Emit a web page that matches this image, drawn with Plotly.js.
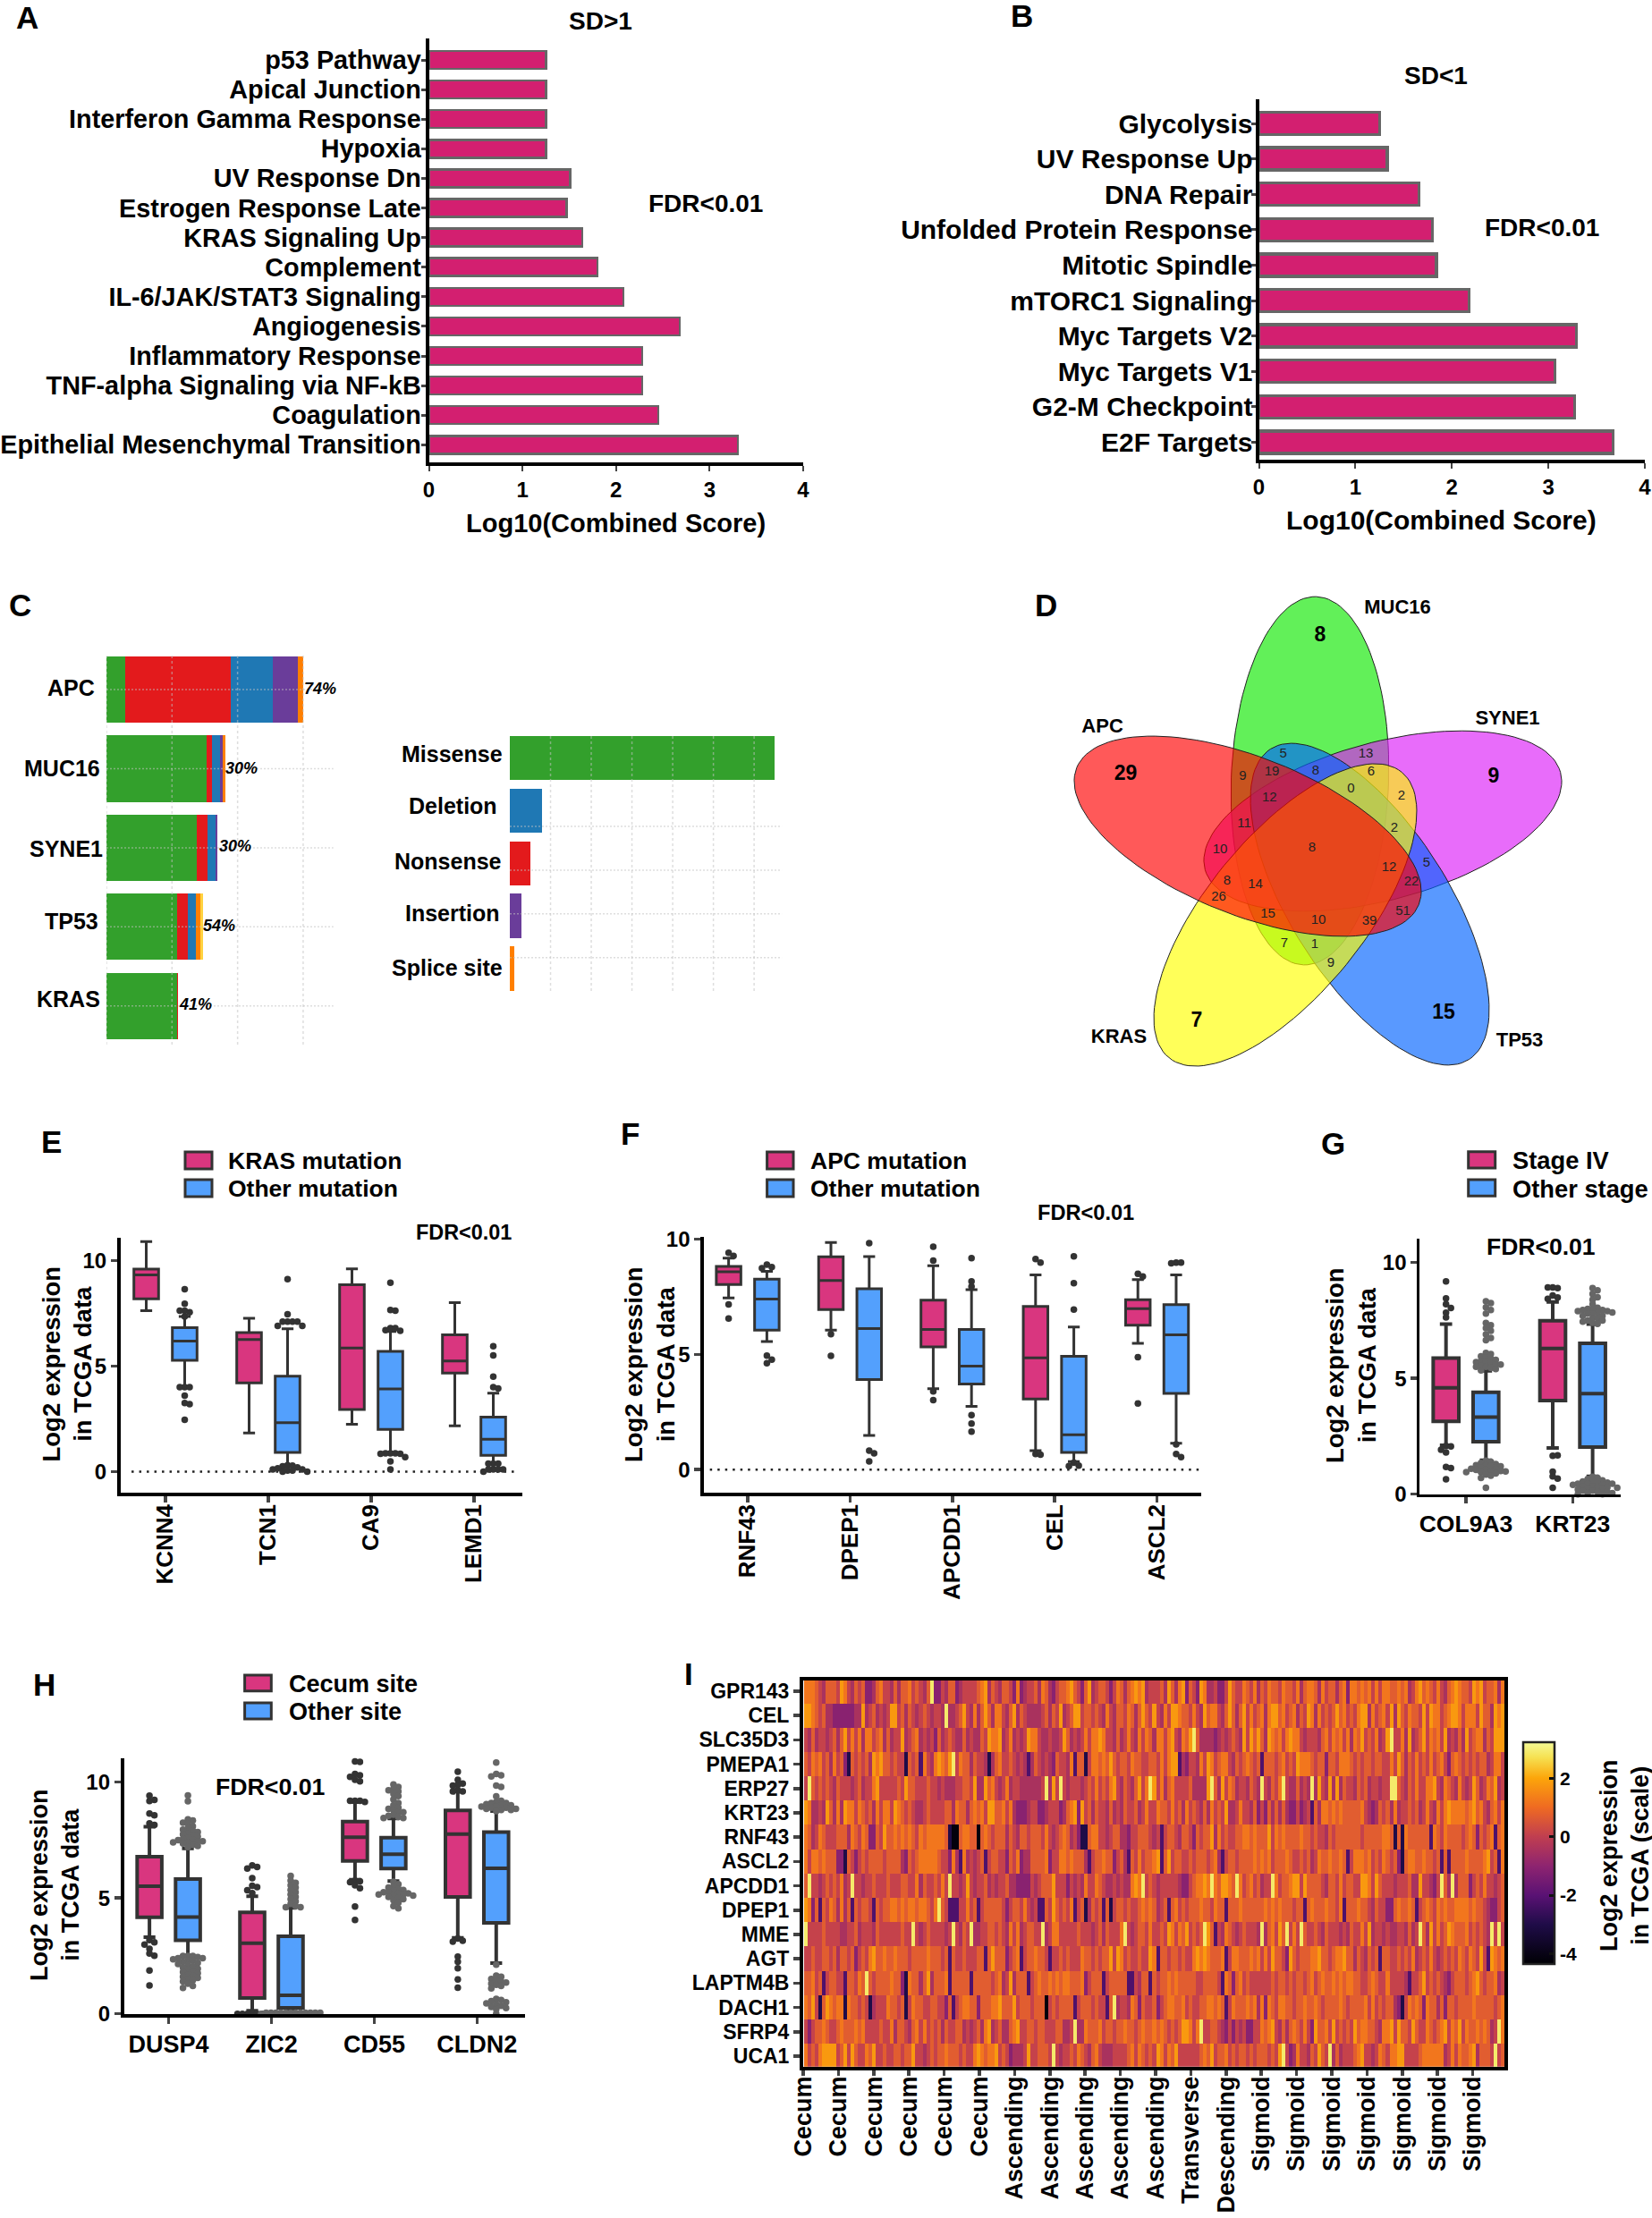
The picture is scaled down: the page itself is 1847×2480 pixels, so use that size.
<!DOCTYPE html>
<html>
<head>
<meta charset="utf-8">
<script src="https://cdn.plot.ly/plotly-3.0.1.min.js"></script>
<style>body{margin:0;background:#fff}</style>
</head>
<body>
<div id="chart"></div>
<script>
const W = 1847, H = 2480;
const FONT = '"Liberation Sans", Arial, sans-serif';
const PINK = "#d9367f", BLUE = "#53a0fd", BAR = "#d31f70";

// A / B
const aTerms = ["p53 Pathway", "Apical Junction", "Interferon Gamma Response", "Hypoxia", "UV Response Dn", "Estrogen Response Late", "KRAS Signaling Up", "Complement", "IL-6/JAK/STAT3 Signaling", "Angiogenesis", "Inflammatory Response", "TNF-alpha Signaling via NF-kB", "Coagulation", "Epithelial Mesenchymal Transition"];
const aScores = [1.25, 1.25, 1.25, 1.25, 1.51, 1.47, 1.64, 1.8, 2.08, 2.68, 2.28, 2.28, 2.45, 3.3];
const bTerms = ["Glycolysis", "UV Response Up", "DNA Repair", "Unfolded Protein Response", "Mitotic Spindle", "mTORC1 Signaling", "Myc Targets V2", "Myc Targets V1", "G2-M Checkpoint", "E2F Targets"];
const bScores = [1.25, 1.33, 1.66, 1.8, 1.84, 2.18, 3.29, 3.07, 3.27, 3.67];

// C
const cGenes = ["APC", "MUC16", "SYNE1", "TP53", "KRAS"];
const cPct = ["74%", "30%", "30%", "54%", "41%"];
const cMissense = [29, 153, 138, 108, 108];
const cNonsense = [160, 8, 16, 16, 1];
const cDeletion = [65, 12, 12, 13, 0];
const cInsertion = [38, 4, 3, 0, 0];
const cSplice = [8, 4, 0, 6, 0];
const cOther = [0, 0, 0, 4, 0];
const cTypes = ["Missense", "Deletion", "Nonsense", "Insertion", "Splice site"];
const cTypeCounts = [650, 78, 50, 29, 12];
const cTypeColors = ["#33a02c", "#1f78b4", "#e31a1c", "#6a3d9a", "#ff7f00"];
const cTypeGrid = [1.3, 2.13, 2.96, 3.79];

// D
const vennNames = ["MUC16", "SYNE1", "TP53", "KRAS", "APC"];
const vennCx = [1464.5, 1546, 1531.5, 1437, 1395];
const vennCy = [873, 918, 1011, 1023, 935];
const vennAngle = [92, -15.3, 57.4, -50.8, 21.8];
const vennFill = ["rgba(14,232,0,.65)", "rgba(220,29,248,.65)", "rgba(0,98,255,.65)", "rgba(255,255,0,.65)", "rgba(255,0,0,.65)"];
const vennLabelX = [1562.5, 1685.5, 1699, 1251, 1232.6];
const vennLabelY = [680.7, 804, 1164, 1160.5, 813];
const vennSoloX = [1476, 1670, 1614, 1338, 1258.6];
const vennSoloY = [711, 869, 1133, 1142, 866];
const vennSolo = ["8", "9", "15", "7", "29"];
const vennCounts = ["5","13","9","19","8","6","0","2","12","11","2","10","8","5","12","22","8","14","26","15","51","10","39","7","1","9"];
const vennCountX = [1434.7,1527,1389.4,1422,1471,1533,1510.3,1566.8,1419.3,1391,1559,1364,1466.8,1595,1553,1578,1372,1403.5,1362.5,1417.6,1568.5,1474,1531,1436,1470,1488];
const vennCountY = [843,843,868.6,863.5,862,863,882,890.5,892,921,926,950,948,965.6,970,986.6,985.5,989,1003.7,1022,1019,1029,1030,1055,1056.6,1077];

// E  box rows are [low, q1, median, q3, up]
const eGenes = ["KCNN4", "TCN1", "CA9", "LEMD1"];
const eBoxA = [[7.62,8.18,9.32,9.59,10.9],[1.83,4.2,6.26,6.59,7.26],[2.24,2.94,5.85,8.85,9.6],[2.17,4.67,5.24,6.48,8.0]];
const eBoxB = [[4.0,5.27,6.18,6.82,7.35],[0.3,0.91,2.32,4.52,6.77],[0.86,2.0,3.91,5.7,6.64],[0.42,0.77,1.53,2.58,3.71]];
const eOutA = [[],[],[],[]];
const eOutB = [
  [8.64,7.95,7.62,7.55,7.62,7.35,4.0,4.0,4.0,3.6,3.25,3.2,2.45],
  [9.12,7.45,7.1,7.1,7.1,7.1,6.9,6.9,0.3,0.28,0.25,0.2,0.15,0.1,0.1,0.05,0.05,0,0],
  [8.95,7.65,7.62,6.8,6.8,6.7,6.67,0.86,0.86,0.86,0.84,0.84,0.68,0.48,0.1],
  [5.94,5.5,4.5,4.0,3.94,0.38,0.38,0.38,0.1,0.1,0.1,0.1,0]
];

// F
const fGenes = ["RNF43", "DPEP1", "APCDD1", "CEL", "ASCL2"];
const fBoxA = [[7.45,8.04,8.59,8.82,9.18],[6.06,6.95,8.21,9.24,9.86],[3.51,5.33,6.09,7.36,8.85],[0.82,3.07,4.85,7.09,8.45],[5.48,6.27,6.99,7.38,8.25]];
const fBoxB = [[5.56,6.06,7.41,8.27,8.61],[1.48,3.91,6.12,7.85,9.25],[2.75,3.72,4.49,6.09,7.81],[0.35,0.75,1.51,4.92,6.19],[1.14,3.31,5.85,7.16,8.45]];
const fOutA = [[9.42,9.28,7.17,6.56],[5.88,4.94],[9.68,9.08,3.4,3.02],[9.14,8.99,0.68,0.65],[8.5,8.39,4.88,2.87]];
const fOutB = [[8.9,8.79,8.75,4.95,4.77,4.62],[9.83,0.82,0.71,0.36],[9.18,8.17,7.95,2.37,2.0,1.65],[9.26,8.1,6.95,0.3,0.17,0.15],[8.99,8.99,8.96,1.1,0.68,0.54]];

// G
const gGenes = ["COL9A3", "KRT23"];
const gBoxA = [[2.11,3.14,4.59,5.88,7.34],[2.0,4.04,6.29,7.49,8.3]];
const gBoxB = [[1.47,2.27,3.33,4.4,5.33],[0.77,2.03,4.34,6.51,7.34]];
const gOutA = [
  [9.19,8.45,8.2,8.04,7.84,7.63,2.08,2.06,1.92,1.8,1.18,1.13,0.64],
  [8.93,8.9,8.93,8.58,8.49,8.43,1.66,1.68,0.97,0.77,0.67,0.28]
];
const gOutB = [
  [8.33,8.25,8.07,7.95,7.8,7.39,7.3,7.17,7.05,6.9,6.75,6.65,6.1,6.05,5.95,5.9,5.85,5.8,5.75,5.7,5.7,5.65,5.6,5.6,5.55,5.5,5.5,5.45,5.4,5.35,1.45,1.4,1.35,1.3,1.25,1.25,1.2,1.2,1.15,1.1,1.1,1.05,1.05,1.0,1.0,0.98,0.95,0.95,0.9,0.85,0.8,0.7,0.28],
  [8.9,8.8,8.65,8.5,8.4,8.2,8.05,8.0,8.0,7.95,7.95,7.9,7.9,7.85,7.85,7.8,7.8,7.7,7.7,7.6,7.6,7.5,7.5,7.45,7.4,7.35,0.75,0.7,0.65,0.6,0.55,0.55,0.5,0.5,0.45,0.45,0.45,0.4,0.4,0.35,0.35,0.3,0.3,0.28,0.25,0.2,0.2,0.15,0.15,0.1,0.1,0.05,0.05,0,0]
];

// H
const hGenes = ["DUSP4", "ZIC2", "CD55", "CLDN2"];
const hBoxA = [[3.31,4.17,5.51,6.78,8.08],[0.13,0.68,3.05,4.38,5.08],[5.79,6.6,7.62,8.3,9.14],[3.28,5.05,7.76,8.78,9.59]];
const hBoxB = [[2.51,3.17,4.18,5.82,7.14],[0.15,0.26,0.8,3.35,4.57],[5.73,6.27,6.89,7.6,8.43],[2.19,3.93,6.28,7.85,8.75]];
const hOutA = [
  [9.42,9.24,9.19,8.65,8.57,8.22,8.15,3.18,3.09,2.99,2.81,2.6,2.51,1.87,1.22],
  [6.41,6.34,6.27,5.86,5.53,5.47,5.34,5.21,0,0,0,0,0,0,0],
  [10.9,10.88,10.36,10.3,10.23,10.1,10.04,9.2,9.2,9.2,9.15,5.75,5.72,5.68,5.55,5.42,4.63,4.05],
  [10.45,10.1,9.94,9.88,9.85,9.65,9.6,9.6,3.25,3.15,3.12,2.47,2.25,1.97,1.48,1.13]
];
const hOutB = [
  [9.43,9.18,8.4,8.35,8.25,8.2,8.1,8.0,7.95,7.9,7.85,7.8,7.75,7.7,7.65,7.6,7.55,7.5,7.5,7.45,7.45,7.4,7.4,7.35,7.3,7.25,7.2,2.5,2.5,2.5,2.45,2.4,2.4,2.35,2.3,2.3,2.25,2.2,2.15,2.1,2.05,2.0,1.95,1.9,1.85,1.8,1.75,1.7,1.65,1.6,1.55,1.5,1.45,1.4,1.3,1.2,1.12],
  [5.95,5.75,5.65,5.55,5.45,5.35,5.25,5.15,5.05,4.95,4.85,4.75,4.65,4.6,4.6,0.05,0.05,0.05,0.05,0.05,0.05,0.05,0.05,0.05,0.05,0.05,0.05,0],
  [9.9,9.8,9.7,9.65,9.6,9.5,9.4,9.25,9.1,9.0,8.9,8.85,8.8,8.7,8.7,8.6,8.55,8.5,8.45,8.45,5.7,5.6,5.5,5.45,5.4,5.35,5.3,5.25,5.25,5.2,5.2,5.15,5.15,5.1,5.1,5.05,5.0,4.95,4.9,4.8,4.65,4.55],
  [10.85,10.36,10.3,10.25,9.85,9.8,9.39,9.2,9.15,9.1,9.1,9.05,9.0,9.0,8.95,8.95,8.9,8.9,8.85,8.85,8.8,8.8,8.75,2.12,1.65,1.6,1.5,1.45,1.4,1.35,1.3,1.25,1.2,1.1,0.64,0.6,0.55,0.5,0.45,0.4,0.35,0.3,0.25,0.2,0]
];

// I
const heatGenes = ["GPR143", "CEL", "SLC35D3", "PMEPA1", "ERP27", "KRT23", "RNF43", "ASCL2", "APCDD1", "DPEP1", "MME", "AGT", "LAPTM4B", "DACH1", "SFRP4", "UCA1"];
const heatSites = ["Cecum","Cecum","Cecum","Cecum","Cecum","Cecum","Ascending","Ascending","Ascending","Ascending","Ascending","Transverse","Descending","Sigmoid","Sigmoid","Sigmoid","Sigmoid","Sigmoid","Sigmoid","Sigmoid"];
const heatLevels = [-4.2, -3, -2.2, -1.1, -0.45, 0.1, 0.7, 1.2, 1.8, 2.9];
const heatRows = [
  "7776546665875465633467554646675654693354663455" + "5567846546653734556476435667865368456653576467878455564864783653874453358655" + "7657465766576657467764756646737767675757766767457867657546787665878566747",
  "8876564433333344845645458856465456545549445685474" + "6864775468465444456465845688566565475466576468658547588766575486775468646857" + "5674788675674658747565686756578847567584865766585877567887577758664878656",
  "5464554564685757477567464558456745453645654464" + "5446587784574545877544544586454575778755464575475764775785476896444434545654" + "8586864876757877545554675767574768565745895574845685767584546485677465888",
  "6576756475631656564878665655165627547876895766465" + "5414675565454246545436554726615776768656657665566575788243554758756775465676" + "5626665675658777656636657776565665665575864657565756753676565656645775687",
  "5965656546555456455785555565866555655454445566" + "5844867545745544444459485954555456575657854654685798574675555644448964857645" + "5465495465795446454948548484655465645545599654657557785476547545864576845",
  "8744548647487757656475775876565445655556647664" + "6767588667574333455334555346783856465546454655645755766575647565464756584457" + "5546353646464335345264776767666667543465647455656457547578777767867546757",
  "7645765556664765763365866767676576777776100677" + "6606765666465466566657545676453116775545664435566654525665466536566847565566" + "7767666857676666766565546566666665666667761617666666276576666567636567267",
  "7577676663316535656666566664365677777655374274" + "5456256655365734466667355776766642566766356426575667826856655656665674256656" + "6667676756667655656457667667625777675657656316776676656262666676666785627",
  "6955456565745955455655565556655746556575955458545" + "5645455644333354566685553545475576544545447879565455555433567787976887697567" + "5645597566788586666546657566558875865554555644855435964946663565755456555",
  "8736265764746265665265667767677677657965222557" + "5625666665356657545226586565725614656261566565567676456267565666766576626667" + "6666667676766656626766676657266676654655336766762567657676677776766543356",
  "9555565555445564555465555556559545655554595465" + "9445566565475745665594577555556555456465557954566575565875768565698625476545" + "6555494675869575965565465554546557584554544554645964857568766675656549595",
  "5565566564665635657866766766656666766656265565" + "5566268666356725667665255656555766565668587565565587266566565578787666725776" + "6676757586653865666778665677866465465626655656574565754565657657658528767",
  "6675625665526657696566667663176646846667266666" + "2666665674584666256766767677666735666256666622546626566767666665566665276367" + "5655555565665656656756766767677665567655755554255685656543566656786566745",
  "7685168767717665651455576656157665566553625677" + "6636667786668566656660565666625666565526945547636556356776675655667767625766" + "6767473765776656676676566667656666757565664315767637664636656666766666567",
  "5356676556766676755556557466546757565646556645" + "4564784564467855665665556644594476667566566766567667676565688757955665435354" + "5335576785464676575386675856565867766547785866586557656785768576676764597",
  "7565788885685865576855655665668554565667666565" + "5787677856534445855666595455657654675444555567576565875768555555676856675656" + "6565666565895347554658659464555678554576577885555677777745757667846665956"
];

const heatCols = 195;
const heatZ = heatRows.map((r) => {
  const row = [];
  for (let i = 0; i < heatCols; i++) row.push(heatLevels[+r[Math.min(i, r.length - 1)]]);
  return row;
});
const heatColorscale = [[0,"#000004"],[0.178,"#1f0c48"],[0.31,"#5a1274"],[0.442,"#8e2470"],[0.574,"#c03e50"],[0.706,"#ef6a22"],[0.838,"#fca50a"],[0.93,"#f6e050"],[1,"#f4fa96"]];
const heatTicks = [-4, -2, 0, 2];
const heatMin = -4.35, heatMax = 3.23;

const traces = [];
const layout = {
  width: W, height: H, autosize: false,
  margin: { l: 0, r: 0, t: 0, b: 0 },
  paper_bgcolor: "#fff", plot_bgcolor: "rgba(0,0,0,0)",
  font: { family: FONT, color: "#000" },
  showlegend: false, barmode: "stack", boxmode: "overlay",
  annotations: [], shapes: [],
};

function addAxes(n, box, xo, yo) {
  const [L, R, T, B] = box;
  const sfx = n === 1 ? "" : n;
  layout["xaxis" + sfx] = Object.assign({ domain: [L / W, R / W], anchor: "y" + sfx, showgrid: false, zeroline: false, fixedrange: true }, xo);
  layout["yaxis" + sfx] = Object.assign({ domain: [1 - B / H, 1 - T / H], anchor: "x" + sfx, showgrid: false, zeroline: false, fixedrange: true }, yo);
  return { xaxis: "x" + sfx, yaxis: "y" + sfx };
}

function txt(x, y, text, size, opt) {
  const o = opt || {};
  layout.annotations.push({
    xref: "paper", yref: "paper", x: x / W, y: 1 - y / H, text: o.plain ? text : "<b>" + text + "</b>",
    showarrow: false, xanchor: o.anchor || "center", yanchor: "middle", align: "center",
    textangle: o.angle || 0, font: { size, family: FONT, color: "#000" },
  });
}

function swatch(x0, y0, x1, y1, color) {
  layout.shapes.push({ type: "rect", xref: "paper", yref: "paper", x0: x0 / W, x1: x1 / W, y0: 1 - y0 / H, y1: 1 - y1 / H, fillcolor: color, line: { color: "#333", width: 3 } });
}

// spreads equal values sideways, px distances
function swarm(vals, cx, pxX, pxY, step, minD) {
  const placed = [];
  return vals.map((v) => {
    let off = 0;
    for (let k = 0; k < 14; k++) {
      off = k === 0 ? 0 : (k % 2 ? 1 : -1) * Math.ceil(k / 2) * step;
      if (placed.every((p) => Math.hypot(p[0] - off, (p[1] - v) * pxY) >= minD)) break;
    }
    placed.push([off, v]);
    return cx + off / pxX;
  });
}

function hbarPanel(n, box, terms, scores, c0, rowH, barH, line, tickSize, standoff) {
  const [L, R, T, B] = box;
  const ax = addAxes(n, box, {
    range: [0, 4], tickvals: [0, 1, 2, 3, 4], ticks: "outside", ticklen: 6, tickwidth: 2, showline: true, linewidth: 4, linecolor: "#000",
    tickfont: { size: 24, weight: "bold" },
  }, {
    range: [(B - c0) / rowH, (T - c0) / rowH], tickvals: terms.map((_, i) => i), ticktext: terms, ticks: "outside", ticklen: 5, tickwidth: 3,
    ticklabelstandoff: standoff, showline: true, linewidth: 4, linecolor: "#000", tickfont: { size: tickSize, weight: "bold" },
  });
  traces.push(Object.assign({
    type: "bar", orientation: "h", x: scores, y: terms.map((_, i) => i), width: barH / rowH, hoverinfo: "skip",
    marker: { color: BAR, line: { color: "#666", width: line } },
  }, ax));
}
hbarPanel(1, [479.5, 898, 43, 517], aTerms, aScores, 67, 33.1, 20, 2.5, 28.8, -6);
hbarPanel(2, [1407.5, 1839, 111, 514], bTerms, bScores, 138, 39.6, 25, 3.5, 30, -8);

// C left stack
const c1 = addAxes(3, [119, 380, 733, 1169], { range: [0, 356], visible: false }, { range: [4.5, -0.43], visible: false });
[[cMissense, "#33a02c"], [cNonsense, "#e31a1c"], [cDeletion, "#1f78b4"], [cInsertion, "#6a3d9a"], [cSplice, "#ff7f00"], [cOther, "#ffd23f"]].forEach(([vals, color]) => {
  traces.push(Object.assign({ type: "bar", orientation: "h", x: vals, y: cGenes.map((_, i) => i), width: 0.84, marker: { color }, hoverinfo: "skip" }, c1));
});
const cGridX = [0, 100, 200, 300];
function gridTrace(ax, xs, ys, dash) {
  traces.push(Object.assign({ type: "scatter", mode: "lines", x: xs, y: ys, line: { color: "rgba(195,195,195,.55)", width: 1.5, dash }, hoverinfo: "skip" }, ax));
}
gridTrace(c1, cGridX.flatMap((v) => [v, v, null]), cGridX.flatMap(() => [-0.43, 4.5, null]), "3px,3px");
gridTrace(c1, cGenes.flatMap(() => [0, 346, null]), cGenes.flatMap((_, i) => [i, i, null]), "2px,2px");
const cNameX = [108, 114, 116.6, 112, 114], cNameY = [768.6, 858.6, 949, 1030, 1117];
cGenes.forEach((g, i) => txt(cNameX[i], cNameY[i], g, 25, { anchor: "right" }));
const cPctX = [358, 270, 263, 245, 218], cPctY = [769.6, 858.6, 946, 1035, 1123];
cPct.forEach((p, i) => txt(cPctX[i], cPctY[i], "<i>" + p + "</i>", 18));

// C right
const c2 = addAxes(4, [570, 880, 823, 1110], { range: [0, 681], visible: false }, { range: [4.457, -0.416], visible: false });
traces.push(Object.assign({ type: "bar", orientation: "h", x: cTypeCounts, y: cTypes.map((_, i) => i), width: 0.84, marker: { color: cTypeColors }, hoverinfo: "skip" }, c2));
const cTypeGridX = [100, 200, 300, 400, 500, 600];
gridTrace(c2, cTypeGridX.flatMap((v) => [v, v, null]), cTypeGridX.flatMap(() => [-0.416, 4.44, null]), "3px,3px");
gridTrace(c2, cTypeGrid.flatMap(() => [0, 668, null]), cTypeGrid.flatMap((v) => [v, v, null]), "2px,2px");
const cTypeNameX = [564, 558, 562.5, 561, 564], cTypeNameY = [843, 900.7, 962.5, 1020.7, 1082];
cTypes.forEach((t, i) => txt(cTypeNameX[i], cTypeNameY[i], t, 25, { anchor: "right" }));

// D venn, axis units are figure pixels
const venn = addAxes(5, [1180, 1780, 650, 1210], { range: [1180, 1780], visible: false }, { range: [1210, 650], visible: false });
vennNames.forEach((name, i) => {
  const a = 206, b = 88, t = vennAngle[i] * Math.PI / 180;
  const xs = [], ys = [];
  for (let k = 0; k <= 120; k++) {
    const u = k / 120 * 2 * Math.PI;
    xs.push(vennCx[i] + a * Math.cos(u) * Math.cos(t) - b * Math.sin(u) * Math.sin(t));
    ys.push(vennCy[i] + a * Math.cos(u) * Math.sin(t) + b * Math.sin(u) * Math.cos(t));
  }
  traces.push(Object.assign({ type: "scatter", mode: "lines", x: xs, y: ys, fill: "toself", fillcolor: vennFill[i], line: { color: "#222", width: 1 }, name, hoverinfo: "skip" }, venn));
});
traces.push(Object.assign({ type: "scatter", mode: "text", x: vennCountX, y: vennCountY, text: vennCounts, textfont: { size: 15, color: "#222", family: FONT }, hoverinfo: "skip" }, venn));
traces.push(Object.assign({ type: "scatter", mode: "text", x: vennSoloX, y: vennSoloY, text: vennSolo.map((s) => "<b>" + s + "</b>"), textfont: { size: 23, color: "#000", family: FONT }, hoverinfo: "skip" }, venn));
traces.push(Object.assign({ type: "scatter", mode: "text", x: vennLabelX, y: vennLabelY, text: vennNames.map((s) => "<b>" + s + "</b>"), textfont: { size: 22, color: "#000", family: FONT }, hoverinfo: "skip" }, venn));

function boxPanel(n, cfg) {
  const { box, genes, boxA, boxB, outA, outB, tick0, tickStep, yPx, y0Px, lineW, axisW, tickSize, tickAngle, yTicks, outColorB, dotted, standoff } = cfg;
  const [L, R, T, B] = box;
  const ax = addAxes(n, box, {
    range: [(L - tick0) / tickStep, (R - tick0) / tickStep], tickvals: genes.map((_, i) => i), ticktext: genes, tickangle: tickAngle, ticklabelstandoff: standoff || 0,
    ticks: "outside", ticklen: 7, tickwidth: 3.5, showline: true, linewidth: axisW, linecolor: "#000", tickfont: { size: tickSize, weight: "bold" },
  }, {
    range: [(y0Px - B) / yPx, (y0Px - T) / yPx], tickvals: yTicks, ticks: "outside", ticklen: 7, tickwidth: 3.5, showline: true, linewidth: axisW, linecolor: "#000",
    tickfont: { size: 24, weight: "bold" },
  });
  if (dotted) {
    traces.push(Object.assign({ type: "scatter", mode: "lines", x: dotted, y: [0, 0], line: { color: "#222", width: 2.5, dash: "2.5px,6px" }, hoverinfo: "skip" }, ax));
  }
  [[boxA, outA, -0.187, PINK, "#333"], [boxB, outB, 0.187, BLUE, outColorB]].forEach(([rows, outs, off, fill, dot]) => {
    traces.push(Object.assign({
      type: "box", x: genes.map((_, i) => i + off), lowerfence: rows.map((r) => r[0]), q1: rows.map((r) => r[1]), median: rows.map((r) => r[2]),
      q3: rows.map((r) => r[3]), upperfence: rows.map((r) => r[4]), width: 0.24, whiskerwidth: 0.48, boxpoints: false, fillcolor: fill,
      line: { color: "#333", width: lineW }, hoverinfo: "skip",
    }, ax));
    const xs = [], ys = [];
    outs.forEach((vals, i) => {
      swarm(vals, i + off, tickStep, yPx, 5.5, 5).forEach((x) => xs.push(x));
      vals.forEach((v) => ys.push(v));
    });
    traces.push(Object.assign({ type: "scatter", mode: "markers", x: xs, y: ys, cliponaxis: false, marker: { size: 7.5, color: dot }, hoverinfo: "skip" }, ax));
  });
}
boxPanel(6, { box: [135, 583.5, 1384, 1668.6], genes: eGenes, boxA: eBoxA, boxB: eBoxB, outA: eOutA, outB: eOutB, tick0: 185, tickStep: 115, yPx: 23.6, y0Px: 1645.4, lineW: 3, axisW: 4, tickSize: 26, tickAngle: -90, yTicks: [0, 5, 10], outColorB: "#333", dotted: [-0.33, 3.43], standoff: -8 });
boxPanel(7, { box: [787.3, 1342.5, 1383, 1668.6], genes: fGenes, boxA: fBoxA, boxB: fBoxB, outA: fOutA, outB: fOutB, tick0: 836, tickStep: 114.4, yPx: 25.75, y0Px: 1643.2, lineW: 3, axisW: 4, tickSize: 26, tickAngle: -90, yTicks: [0, 5, 10], outColorB: "#333", dotted: [-0.37, 4.42], standoff: -8 });
boxPanel(8, { box: [1587.3, 1811.7, 1385, 1670.7], genes: gGenes, boxA: gBoxA, boxB: gBoxB, outA: gOutA, outB: gOutB, tick0: 1639, tickStep: 119.3, yPx: 25.9, y0Px: 1670.7, lineW: 4, axisW: 3, tickSize: 26.5, tickAngle: 0, yTicks: [0, 5, 10], outColorB: "#666" });
boxPanel(9, { box: [138.8, 586.8, 1965.7, 2251.7], genes: hGenes, boxA: hBoxA, boxB: hBoxB, outA: hOutA, outB: hOutB, tick0: 188.6, tickStep: 114.9, yPx: 25.9, y0Px: 2251.7, lineW: 4, axisW: 4, tickSize: 27, tickAngle: 0, yTicks: [0, 5, 10], outColorB: "#666" });

// I heatmap
const heatPxPerCol = 783 / heatCols;
const heatAx = addAxes(10, [898, 1682, 1879, 2310.7], {
  range: [-0.75, heatCols - 0.5], tickvals: heatSites.map((_, i) => i * 39.4 / heatPxPerCol - 0.75), ticktext: heatSites, tickangle: -90, ticklabelstandoff: -10,
  ticks: "outside", ticklen: 6, tickwidth: 3.5, showline: true, mirror: true, linewidth: 4, linecolor: "#000", tickfont: { size: 27, weight: "bold" },
}, {
  range: [15.43, -0.44], tickvals: heatGenes.map((_, i) => i), ticktext: heatGenes, ticks: "outside", ticklen: 7, tickwidth: 3.5,
  showline: true, mirror: true, linewidth: 4, linecolor: "#000", tickfont: { size: 23, weight: "bold" },
});
traces.push(Object.assign({
  type: "heatmap", z: heatZ, zmin: heatMin, zmax: heatMax, colorscale: heatColorscale, hoverinfo: "skip",
  colorbar: {
    x: 1702.7 / W, xanchor: "left", y: 1 - 2196 / H, yanchor: "bottom", len: 247.7, lenmode: "pixels", thickness: 34.6, thicknessmode: "pixels",
    xpad: 0, ypad: 0, outlinewidth: 2.5, outlinecolor: "#222", ticks: "inside", ticklen: 7, tickwidth: 3, tickcolor: "#111",
    tickvals: heatTicks, ticktext: heatTicks.map(String), tickfont: { size: 21, weight: "bold", family: FONT },
  },
}, heatAx));
// colour bar has inner ticks on both sides
heatTicks.forEach((v) => {
  const y = 2196 - (v - heatMin) / (heatMax - heatMin) * 247.7;
  layout.shapes.push({ type: "line", xref: "paper", yref: "paper", x0: 1703 / W, x1: 1710 / W, y0: 1 - y / H, y1: 1 - y / H, line: { color: "#111", width: 3 } });
});

// panel letters
[["A", 30, 19], ["B", 1142, 18], ["C", 22, 676], ["D", 1169, 677], ["E", 57, 1276], ["F", 704, 1267], ["G", 1490, 1278], ["H", 49, 1883], ["I", 770, 1871]].forEach(([t, x, y]) => txt(x, y, t, 35));

// free text
txt(688, 585, "Log10(Combined Score)", 29);
txt(671, 24, "SD&gt;1", 28);
txt(789, 228, "FDR&lt;0.01", 28);
txt(1611, 582, "Log10(Combined Score)", 30);
txt(1605, 84, "SD&lt;1", 28);
txt(1724, 255, "FDR&lt;0.01", 28);
txt(518, 1377.5, "FDR&lt;0.01", 23.4);
txt(1213.7, 1356, "FDR&lt;0.01", 23.6);
txt(1723, 1394, "FDR&lt;0.01", 26.5);
txt(302, 1997.7, "FDR&lt;0.01", 26.7);

const yTitle = "Log2 expression<br>in TCGA data";
txt(75.5, 1525, yTitle, 27.5, { angle: -90 });
txt(726, 1526, yTitle, 27.5, { angle: -90 });
txt(1510, 1527, yTitle, 27.5, { angle: -90 });
txt(61, 2108, yTitle, 27, { angle: -90 });
txt(1816, 2075, "Log2 expression<br>in TCGA (scale)", 27, { angle: -90 });

// legends
const legends = [
  [207, 237, 1288, 1307, 1319, 1338, 253, 1298, 1329, "KRAS mutation", "Other mutation", 26.5],
  [857.6, 887, 1288, 1307, 1319, 1338, 904, 1298, 1329, "APC mutation", "Other mutation", 26.5],
  [1641.7, 1671.7, 1287.7, 1306, 1319, 1337.3, 1689, 1297.3, 1329, "Stage IV", "Other stage", 27.3],
  [273.6, 303.3, 1873, 1890.7, 1904, 1922, 321, 1883, 1914, "Cecum site", "Other site", 27],
];
legends.forEach(([x0, x1, y0, y1, y2, y3, tx, ty1, ty2, a, b, size]) => {
  swatch(x0, y0, x1, y1, PINK);
  swatch(x0, y2, x1, y3, BLUE);
  txt(tx, ty1, a, size, { anchor: "left" });
  txt(tx, ty2, b, size, { anchor: "left" });
});

Plotly.newPlot("chart", traces, layout, { staticPlot: true, displayModeBar: false });
</script>
</body>
</html>
